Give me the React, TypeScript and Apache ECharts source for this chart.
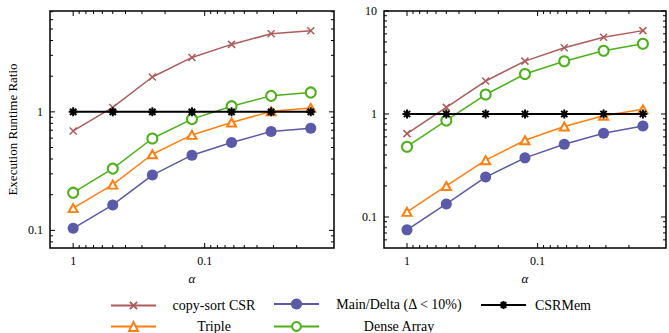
import React, { useEffect, useRef } from "react";
import * as echarts from "echarts";

const FONT = "'Liberation Serif', 'DejaVu Serif', serif";

// x values (alpha)
const alpha = [1, 0.5, 0.25, 0.125, 0.0625, 0.03125, 0.015625];

// left panel
const copySortL = [0.69, 1.09, 1.97, 2.88, 3.71, 4.56, 4.84];
const tripleL = [0.154, 0.243, 0.439, 0.639, 0.814, 1.01, 1.08];
const mainDeltaL = [0.104, 0.164, 0.293, 0.431, 0.551, 0.683, 0.728];
const denseL = [0.208, 0.332, 0.596, 0.868, 1.117, 1.365, 1.459];
const csrMemL = [1, 1, 1, 1, 1, 1, 1];

// right panel
const copySortR = [0.645, 1.16, 2.09, 3.26, 4.4, 5.56, 6.45];
const tripleR = [0.112, 0.2, 0.356, 0.556, 0.756, 0.962, 1.11];
const mainDeltaR = [0.075, 0.134, 0.244, 0.375, 0.508, 0.651, 0.763];
const denseR = [0.481, 0.866, 1.546, 2.445, 3.256, 4.11, 4.81];
const csrMemR = [1, 1, 1, 1, 1, 1, 1];

// axis ranges and tick labels
const xRange = [0.0104, 1.5];
const yRangeL = [0.071, 7.1];
const yRangeR = [0.05, 10];
const xTickLabels = [1, 0.1];
const yTickLabelsL = [0.1, 1];
const yTickLabelsR = [0.1, 1, 10];

const xMajor = [1, 0.1];
const xMinor = [0.9, 0.8, 0.7, 0.6, 0.5, 0.4, 0.3, 0.2, 0.09, 0.08, 0.07, 0.06, 0.05, 0.04, 0.03, 0.02];
const yMajorL = [0.1, 1];
const yMinorL = [0.08, 0.09, 0.2, 0.3, 0.4, 0.5, 0.6, 0.7, 0.8, 0.9, 2, 3, 4, 5, 6, 7];
const yMajorR = [0.1, 1, 10];
const yMinorR = [0.06, 0.07, 0.08, 0.09, 0.2, 0.3, 0.4, 0.5, 0.6, 0.7, 0.8, 0.9, 2, 3, 4, 5, 6, 7, 8, 9];

const NAMES = {
  copy: "copy-sort CSR",
  main: "Main/Delta (Δ < 10%)",
  csr: "CSRMem",
  triple: "Triple",
  dense: "Dense Array",
};

const COLORS = {
  copy: "#ad5c5c",
  main: "#5a5aa8",
  csr: "#000000",
  triple: "#ff7f0e",
  dense: "#4cb019",
};

const CROSS = "path://M0,0L10,10M10,0L0,10";
const STAR = "path://M5,0L5,10M0,5L10,5M1.5,1.5L8.5,8.5M8.5,1.5L1.5,8.5";

function fmtFor(list: number[]) {
  return (v: number) => {
    for (const t of list) if (Math.abs(v - t) / t < 1e-6) return String(t);
    return "";
  };
}

export default function App() {
  const ref = useRef<HTMLDivElement>(null);
  useEffect(() => {
    if (!ref.current) return;
    const chart = echarts.init(ref.current, undefined, { renderer: "svg" });

    const mk = (key: keyof typeof NAMES, vals: number[], gi: number) => {
      const base: any = {
        type: "line",
        name: NAMES[key],
        xAxisIndex: gi,
        yAxisIndex: gi,
        data: alpha.map((a, i) => [a, vals[i]]),
        lineStyle: { color: COLORS[key], width: key === "csr" ? 2 : 1.5 },
        itemStyle: { color: COLORS[key] },
        z: 3,
      };
      if (key === "copy") {
        base.symbol = CROSS;
        base.symbolSize = 7;
        base.itemStyle = { color: COLORS[key], borderColor: COLORS[key], borderWidth: 1.5 };
      } else if (key === "csr") {
        base.symbol = STAR;
        base.symbolSize = 9;
        base.itemStyle = { color: COLORS[key], borderColor: COLORS[key], borderWidth: 2 };
        base.z = 4;
      } else if (key === "main") {
        base.symbol = "circle";
        base.symbolSize = 11;
      } else if (key === "dense") {
        base.symbol = "emptyCircle";
        base.symbolSize = 10;
        base.itemStyle = { color: COLORS[key], borderColor: COLORS[key], borderWidth: 1.5 };
      } else if (key === "triple") {
        base.symbol = "emptyTriangle";
        base.symbolSize = [9, 8];
        base.itemStyle = { color: COLORS[key], borderColor: COLORS[key], borderWidth: 1.5 };
      }
      return base;
    };

    const tickSeries = (gi: number, dir: "x" | "y", major: number[], minor: number[]) => ({
      type: "custom",
      xAxisIndex: gi,
      yAxisIndex: gi,
      silent: true,
      z: 6,
      data: [
        ...major.map((v) => (dir === "x" ? [v, 1, 1] : [1, v, 1])),
        ...minor.map((v) => (dir === "x" ? [v, 1, 0] : [1, v, 0])),
      ],
      encode: { x: 0, y: 1 },
      renderItem: (params: any, api: any) => {
        const cs = params.coordSys;
        const len = api.value(2) ? 5 : 3;
        const st = { stroke: "#000", lineWidth: 1 };
        if (dir === "x") {
          const x = api.coord([api.value(0), 1])[0];
          const yb = cs.y + cs.height;
          return {
            type: "group",
            children: [
              { type: "line", shape: { x1: x, y1: yb, x2: x, y2: yb - len }, style: st },
              { type: "line", shape: { x1: x, y1: cs.y, x2: x, y2: cs.y + len }, style: st },
            ],
          };
        }
        const y = api.coord([1, api.value(1)])[1];
        const xr = cs.x + cs.width;
        return {
          type: "group",
          children: [
            { type: "line", shape: { x1: cs.x, y1: y, x2: cs.x + len, y2: y }, style: st },
            { type: "line", shape: { x1: xr, y1: y, x2: xr - len, y2: y }, style: st },
          ],
        };
      },
    });

    const xAxisBase = (gi: number) => ({
      type: "log",
      gridIndex: gi,
      inverse: true,
      min: xRange[0],
      max: xRange[1],
      name: "α",
      nameLocation: "middle",
      nameGap: 22,
      nameTextStyle: { fontFamily: FONT, fontSize: 13, fontStyle: "italic", color: "#000" },
      axisLine: { show: false },
      axisTick: { show: false },
      splitLine: { show: false },
      axisLabel: {
        formatter: fmtFor(xTickLabels),
        fontFamily: FONT,
        fontSize: 12,
        color: "#000",
        margin: 7,
        showMinLabel: true,
        showMaxLabel: true,
      },
    });

    const yAxisBase = (gi: number, range: number[], labels: number[], withName: boolean) => ({
      type: "log",
      gridIndex: gi,
      min: range[0],
      max: range[1],
      name: withName ? "Execution Runtime Ratio" : "",
      nameLocation: "middle",
      nameGap: 31,
      nameTextStyle: { fontFamily: FONT, fontSize: 13, color: "#000" },
      axisLine: { show: false },
      axisTick: { show: false },
      splitLine: { show: false },
      axisLabel: {
        formatter: fmtFor(labels),
        fontFamily: FONT,
        fontSize: 12,
        color: "#000",
        margin: 7,
        showMinLabel: true,
        showMaxLabel: true,
      },
    });

    const mkLegend = (name: string, left: number, rowCenter: number, itemH: number, textW: number) => ({
      data: [name],
      left,
      top: rowCenter - itemH / 2,
      padding: 0,
      itemWidth: 45,
      itemHeight: itemH,
      selectedMode: false,
      formatter: (n: string) => `{t|${n}}`,
      textStyle: {
        fontFamily: FONT,
        fontSize: 14,
        color: "#000",
        rich: { t: { width: textW, align: "center", fontFamily: FONT, fontSize: 14, color: "#000" } },
      },
    });

    const option: any = {
      animation: false,
      backgroundColor: "#fff",
      grid: [
        { left: 50, top: 11, width: 284, height: 237, show: true, borderColor: "#000", borderWidth: 1.5, backgroundColor: "transparent" },
        { left: 384, top: 11, width: 283, height: 237, show: true, borderColor: "#000", borderWidth: 1.5, backgroundColor: "transparent" },
      ],
      xAxis: [xAxisBase(0), xAxisBase(1)],
      yAxis: [yAxisBase(0, yRangeL, yTickLabelsL, true), yAxisBase(1, yRangeR, yTickLabelsR, false)],
      legend: [
        mkLegend(NAMES.copy, 110, 303, 9, 106),
        mkLegend(NAMES.triple, 110, 325, 11, 106),
        mkLegend(NAMES.main, 273, 304, 14, 150),
        mkLegend(NAMES.dense, 273, 325, 11, 150),
        mkLegend(NAMES.csr, 480, 303, 10, 64),
      ],
      series: [
        mk("copy", copySortL, 0),
        mk("triple", tripleL, 0),
        mk("main", mainDeltaL, 0),
        mk("dense", denseL, 0),
        mk("csr", csrMemL, 0),
        mk("copy", copySortR, 1),
        mk("triple", tripleR, 1),
        mk("main", mainDeltaR, 1),
        mk("dense", denseR, 1),
        mk("csr", csrMemR, 1),
        tickSeries(0, "x", xMajor, xMinor),
        tickSeries(0, "y", yMajorL, yMinorL),
        tickSeries(1, "x", xMajor, xMinor),
        tickSeries(1, "y", yMajorR, yMinorR),
      ],
    };
    chart.setOption(option);
    return () => chart.dispose();
  }, []);

  return <div ref={ref} style={{ width: 669, height: 333, position: "absolute", left: 0, top: 0 }} />;
}
